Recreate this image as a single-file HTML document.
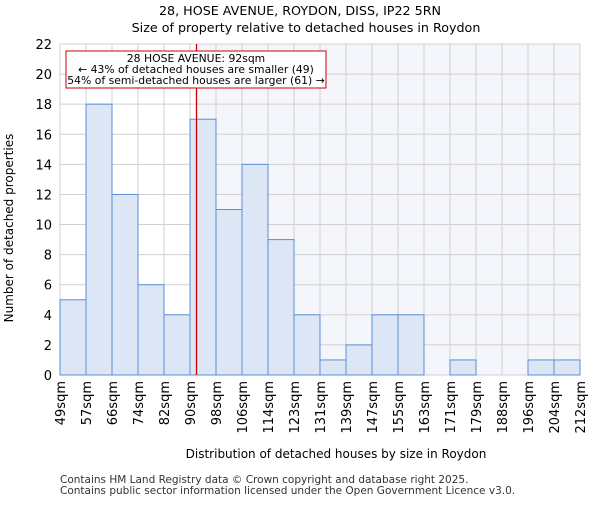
<!DOCTYPE html>
<html><head><meta charset="utf-8"><style>body{margin:0;background:#fff}svg{font-family:"DejaVu Sans","Liberation Sans",sans-serif}</style></head>
<body>
<svg id="c" width="600" height="500" xmlns="http://www.w3.org/2000/svg">
<text x="300" y="15" text-anchor="middle" font-size="12.7">28, HOSE AVENUE, ROYDON, DISS, IP22 5RN</text>
<text x="306" y="32" text-anchor="middle" font-size="12.7">Size of property relative to detached houses in Roydon</text>
<g id="plot"></g>
<text x="336" y="458" text-anchor="middle" font-size="12">Distribution of detached houses by size in Roydon</text>
<text transform="translate(13,228) rotate(-90)" text-anchor="middle" font-size="12">Number of detached properties</text>
<text x="60" y="483" font-size="10.5" fill="#333">Contains HM Land Registry data © Crown copyright and database right 2025.</text>
<text x="60" y="494" font-size="10.5" fill="#333">Contains public sector information licensed under the Open Government Licence v3.0.</text>
</svg>
<script>
const categories=["49sqm","57sqm","66sqm","74sqm","82sqm","90sqm","98sqm","106sqm","114sqm","123sqm","131sqm","139sqm","147sqm","155sqm","163sqm","171sqm","179sqm","188sqm","196sqm","204sqm","212sqm"];
const counts=[5,18,12,6,4,17,11,14,9,4,1,2,4,4,0,1,0,0,1,1];
const yTicks=[0,2,4,6,8,10,12,14,16,18,20,22];
const markerBin=5.25;
const L=60,R=580,T=44,B=375,yMax=22;
const ns="http://www.w3.org/2000/svg";
const g=document.getElementById('plot');
const bw=(R-L)/counts.length;
const xs=i=>L+i*bw, ys=v=>B-(v/yMax)*(B-T);
function mk(t,a,p){const e=document.createElementNS(ns,t);for(const k in a)e.setAttribute(k,a[k]);(p||g).appendChild(e);return e;}
const mx=xs(markerBin);
const bg=mk('rect',{x:mx,y:T,width:R-mx,height:B-T,fill:'#f4f6fc'});


yTicks.forEach(v=>{const l=mk('line',{x1:L,x2:R,y1:ys(v),y2:ys(v),stroke:'#d0d0d0'});


const t=mk('text',{x:L-8,y:ys(v)+5,'text-anchor':'end','font-size':13});t.textContent=v;

});
categories.forEach((c,i)=>{const x=xs(i);const l=mk('line',{x1:x,x2:x,y1:T,y2:B,stroke:'#d0d0d0'});


const t=mk('text',{transform:`translate(${x+5},${B+6}) rotate(-90)`,'text-anchor':'end','font-size':13});t.textContent=c;

});
counts.forEach((v,i)=>{if(v<=0)return;const r=mk('rect',{x:xs(i),y:ys(v),width:bw,height:B-ys(v),fill:'#dce6f4',stroke:'#5a8fd6','stroke-width':1});

});
const ml=mk('line',{x1:mx,x2:mx,y1:T,y2:B,stroke:'#cc0000','stroke-width':1.3});


const box=mk('rect',{x:66,y:51,width:260,height:37,fill:'#fff',stroke:'#cc0000'});


["28 HOSE AVENUE: 92sqm","← 43% of detached houses are smaller (49)","54% of semi-detached houses are larger (61) →"].forEach((s,i)=>{const t=mk('text',{x:196,y:62+i*11,'text-anchor':'middle','font-size':10.8});t.textContent=s;

});
</script>
</body></html>
